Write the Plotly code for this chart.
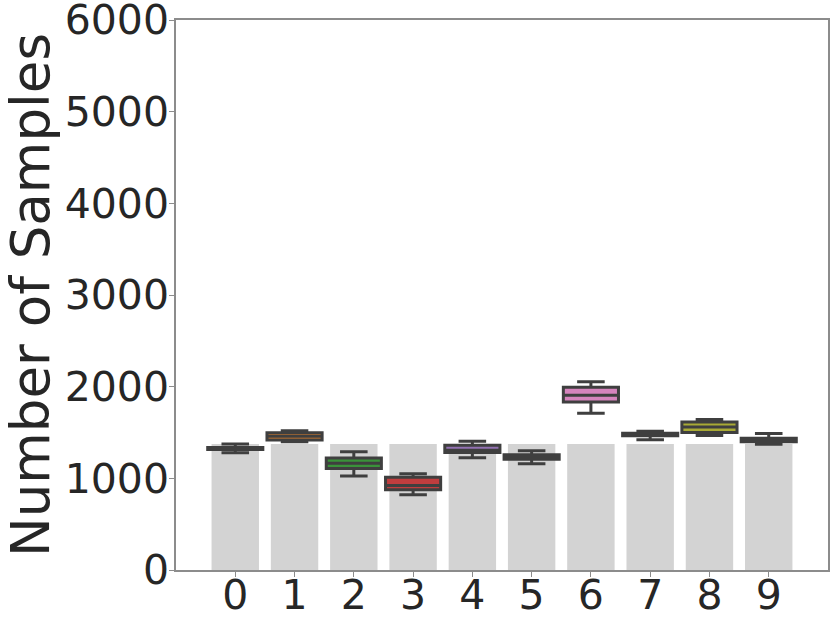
import plotly.graph_objects as go

# categories and values
clases = [0, 1, 2, 3, 4, 5, 6, 7, 8, 9]
altura_barras = [1375, 1375, 1375, 1375, 1375, 1375, 1375, 1375, 1375, 1375]

minimos = [1279, 1400, 1025, 820, 1225, 1160, 1710, 1420, 1468, 1372]
q1s = [1314, 1418, 1108, 875, 1282, 1209, 1834, 1465, 1500, 1400]
medianas = [1325, 1460, 1166, 922, 1307, 1235, 1906, 1478, 1561, 1420]
q3s = [1336, 1498, 1223, 1013, 1362, 1258, 1993, 1492, 1616, 1438]
maximos = [1374, 1520, 1290, 1050, 1405, 1300, 2055, 1515, 1642, 1490]

colores = ['#3274a1', '#e1812c', '#3a923a', '#c03d3e', '#9372b2',
           '#845b53', '#d684bd', '#7f7f7f', '#a9aa35', '#2ea8b9']

fuente = 'DejaVu Sans'
gris_texto = '#262626'
gris_eje = '#8c8c8c'

fig = go.Figure()

# barras de fondo
fig.add_trace(go.Bar(
    x=clases, y=altura_barras, width=0.8,
    marker=dict(color='#d3d3d3', line=dict(width=0)),
    showlegend=False, hoverinfo='skip'
))

# cajas
for i, c in enumerate(clases):
    fig.add_trace(go.Box(
        x=[c], q1=[q1s[i]], median=[medianas[i]], q3=[q3s[i]],
        lowerfence=[minimos[i]], upperfence=[maximos[i]],
        fillcolor=colores[i],
        line=dict(color='#3f3f3f', width=3),
        width=0.93, whiskerwidth=0.5,
        boxpoints=False, showlegend=False
    ))

fig.update_layout(
    width=830, height=623,
    margin=dict(l=176, r=2, t=20, b=53),
    paper_bgcolor='white', plot_bgcolor='white',
    font=dict(family=fuente, color=gris_texto, size=41),
    boxmode='overlay',
)

fig.update_xaxes(
    range=[-1, 10], tickmode='array', tickvals=clases,
    ticktext=[str(c) for c in clases],
    showgrid=False, zeroline=False, automargin=False,
    showline=True, linecolor=gris_eje, linewidth=1.5, mirror=True,
    ticks='outside', ticklen=5, tickcolor=gris_eje,
    ticklabelstandoff=-17, ticklabeloverflow='allow',
    tickfont=dict(size=41, family=fuente, color=gris_texto)
)
fig.update_yaxes(
    range=[0, 6000.5], tickmode='array', tickvals=[0, 1000, 2000, 3000, 4000, 5000, 6000],
    showgrid=False, zeroline=False, automargin=False,
    showline=True, linecolor=gris_eje, linewidth=1.5, mirror=True,
    ticks='outside', ticklen=5, tickcolor=gris_eje,
    ticklabelstandoff=-8, ticklabeloverflow='allow',
    tickfont=dict(size=41, family=fuente, color=gris_texto),
    title=dict(text='Number of Samples', font=dict(size=53, family=fuente, color=gris_texto), standoff=42)
)

# quitar el margen del body para que la figura empiece en (0, 0)
fig.write_html("out.html", config={'displayModeBar': False},
               post_script="document.body.style.margin='0';")
